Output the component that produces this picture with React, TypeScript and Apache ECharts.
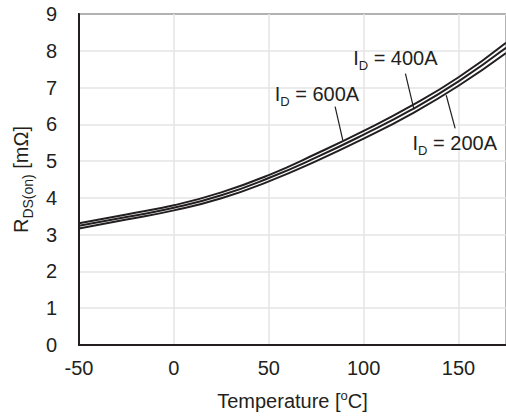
import React, { useEffect, useRef } from "react";
import * as echarts from "echarts";

const temps = [-50, -25, 0, 25, 50, 75, 100, 125, 150, 175];
const r600 = [3.31, 3.55, 3.8, 4.15, 4.62, 5.2, 5.82, 6.5, 7.28, 8.22];
const r400 = [3.24, 3.48, 3.73, 4.07, 4.54, 5.1, 5.72, 6.39, 7.17, 8.08];
const r200 = [3.17, 3.41, 3.66, 3.99, 4.45, 5.0, 5.61, 6.28, 7.05, 7.94];

const labelTexts = ["400A", "600A", "200A"];
const labelPos = [
  [116.7, 7.8],
  [75.4, 6.83],
  [148, 5.49],
];
const leaderLines = [
  [[122, 7.38], [126.4, 6.43]],
  [[84.95, 6.48], [89.0, 5.57]],
  [[143.5, 6.79], [148.2, 5.89]],
];

const INK = "#231f20";
const FONT = "Liberation Sans";

export default function App() {
  const ref = useRef<HTMLDivElement>(null);
  useEffect(() => {
    document.body.style.margin = "0";
    const chart = echarts.init(ref.current!, null, { renderer: "svg" });
    const mk = (vals: number[]) => temps.map((t, i) => [t, vals[i]]);
    const lineSeries = (name: string, vals: number[]) => ({
      name,
      type: "line",
      smooth: true,
      symbol: "none",
      data: mk(vals),
      lineStyle: { color: INK, width: 2 },
      itemStyle: { color: INK },
      silent: true,
    });
    const richLabel = {
      n: { fontSize: 20, fontFamily: FONT, color: INK, lineHeight: 28, verticalAlign: "middle" },
      s: { fontSize: 13, fontFamily: FONT, color: INK, lineHeight: 28, verticalAlign: "bottom" },
    };
    const s400: any = lineSeries("400A", r400);
    s400.markPoint = {
      symbol: "circle",
      symbolSize: 1,
      itemStyle: { color: "rgba(0,0,0,0)" },
      silent: true,
      data: labelTexts.map((t, i) => ({
        coord: labelPos[i],
        label: {
          show: true,
          position: "inside",
          formatter: "{n|I}{s|D}{n| = " + t + "}",
          rich: richLabel,
        },
      })),
    };
    s400.markLine = {
      symbol: ["none", "none"],
      silent: true,
      label: { show: false },
      lineStyle: { color: INK, width: 1.2, type: "solid" },
      data: leaderLines.map((l) => [{ coord: l[0] }, { coord: l[1] }]),
    };
    chart.setOption({
      animation: false,
      grid: {
        left: 79,
        top: 14,
        width: 431,
        height: 331,
        show: true,
        borderColor: INK,
        borderWidth: 2,
        backgroundColor: "transparent",
      },
      xAxis: {
        type: "value",
        min: -50,
        max: 175,
        interval: 50,
        axisLine: { show: true, onZero: false, lineStyle: { color: INK, width: 2 } },
        axisTick: { show: false },
        splitLine: { show: true, lineStyle: { color: "#e4e4e4", width: 1.5 } },
        axisLabel: {
          showMaxLabel: false,
          color: INK,
          fontSize: 20,
          fontFamily: FONT,
          margin: 13,
        },
        name: "{n|Temperature [}{p|o}{n|C]}",
        nameLocation: "middle",
        nameGap: 44,
        nameTextStyle: {
          rich: {
            n: { fontSize: 20, fontFamily: FONT, color: INK, lineHeight: 24, verticalAlign: "middle" },
            p: { fontSize: 13, fontFamily: FONT, color: INK, lineHeight: 24, verticalAlign: "top" },
          },
        },
      },
      yAxis: {
        type: "value",
        min: 0,
        max: 9,
        interval: 1,
        axisLine: { show: true, onZero: false, lineStyle: { color: INK, width: 2 } },
        axisTick: { show: false },
        splitLine: { show: true, lineStyle: { color: "#e4e4e4", width: 1.5 } },
        axisLabel: { color: INK, fontSize: 20, fontFamily: FONT, margin: 22 },
        name: "{n|R}{s|DS(on)}{n| [mΩ]}",
        nameLocation: "middle",
        nameGap: 43,
        nameTextStyle: {
          rich: {
            n: { fontSize: 20, fontFamily: FONT, color: INK, lineHeight: 28, verticalAlign: "middle" },
            s: { fontSize: 14, fontFamily: FONT, color: INK, lineHeight: 28, verticalAlign: "bottom" },
          },
        },
      },
      series: [lineSeries("600A", r600), s400, lineSeries("200A", r200)],
    });
    return () => chart.dispose();
  }, []);
  return (
    <div
      ref={ref}
      style={{ position: "fixed", left: 0, top: 0, width: 506, height: 416, background: "#fff" }}
    />
  );
}
